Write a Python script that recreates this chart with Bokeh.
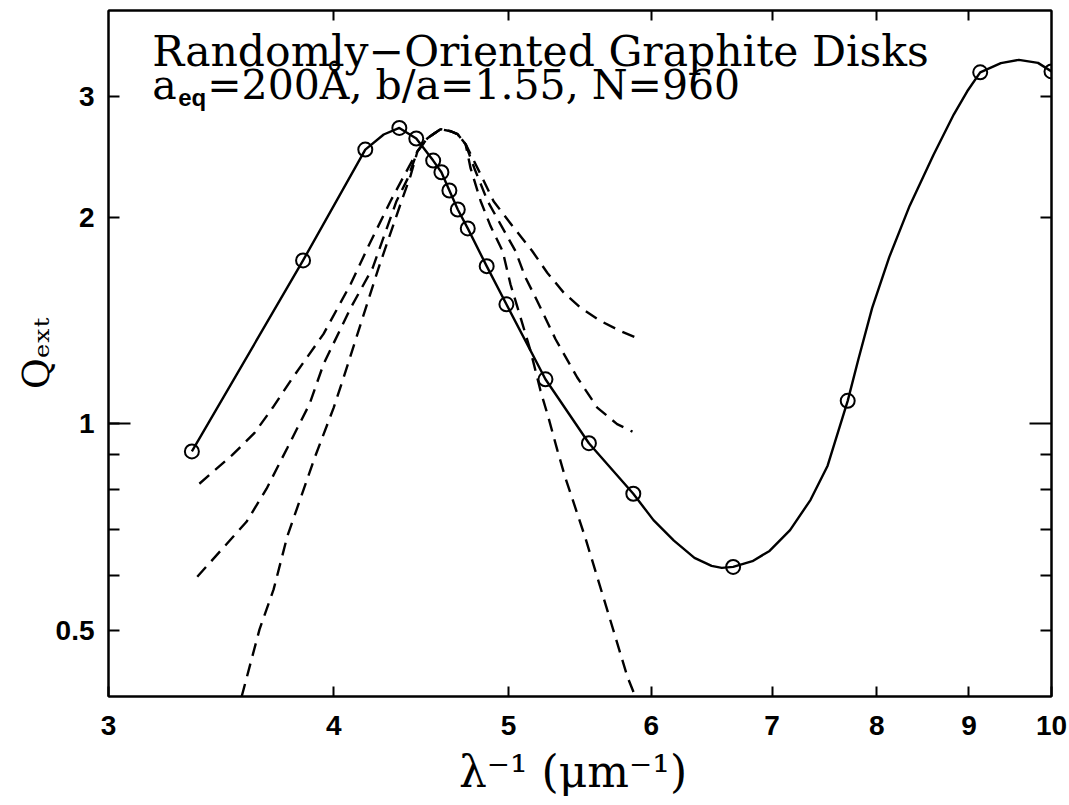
from bokeh.plotting import figure
from bokeh.models import Range1d, LogAxis, FixedTicker, CustomJSTickFormatter, Label
from bokeh.embed import file_html
from bokeh.resources import INLINE

# ---- data ----
x_ticks = [3, 4, 5, 6, 7, 8, 9, 10]
y_ticks = [0.5, 1, 2, 3]
y_minor = [0.6, 0.7, 0.8, 0.9]

# DDA results (open circles)
dda_x = [3.337, 3.846, 4.164, 4.349, 4.444, 4.541, 4.589, 4.636, 4.686, 4.746,
         4.862, 4.986, 5.241, 5.540, 5.863, 6.660, 7.709, 9.13, 10.0]
dda_y = [0.9105, 1.729, 2.508, 2.697, 2.603, 2.417, 2.324, 2.186, 2.051, 1.925,
         1.696, 1.492, 1.160, 0.936, 0.790, 0.618, 1.079, 3.25, 3.26]

# solid curve through the DDA results
curve_x = [3.337, 3.846, 4.164, 4.263, 4.349, 4.444, 4.541, 4.589, 4.636, 4.686,
           4.746, 4.862, 4.986, 5.241, 5.540, 5.863, 6.016, 6.175, 6.339, 6.479,
           6.564, 6.660, 6.826, 6.977, 7.162, 7.352, 7.514, 7.709, 7.815, 7.953,
           8.129, 8.343, 8.602, 8.828, 8.98, 9.13, 9.374, 9.592, 9.829, 10.0]
curve_y = [0.9105, 1.729, 2.508, 2.638, 2.697, 2.603, 2.417, 2.324, 2.186, 2.051,
           1.925, 1.696, 1.492, 1.160, 0.936, 0.790, 0.723, 0.675, 0.637, 0.620,
           0.616, 0.618, 0.630, 0.652, 0.699, 0.774, 0.868, 1.079, 1.241, 1.473,
           1.748, 2.076, 2.465, 2.823, 3.05, 3.25, 3.353, 3.389, 3.355, 3.26]

# dashed curves
dashA_x = [3.369, 3.514, 3.615, 3.700, 3.785, 3.948, 4.087, 4.181, 4.300, 4.383,
           4.451, 4.508, 4.584, 4.644, 4.685, 4.733, 4.806, 4.905, 5.025, 5.153,
           5.253, 5.365, 5.481, 5.623, 5.768, 5.887]
dashA_y = [0.817, 0.900, 0.969, 1.055, 1.154, 1.351, 1.597, 1.814, 2.109, 2.317,
           2.494, 2.606, 2.686, 2.667, 2.641, 2.554, 2.356, 2.109, 1.940, 1.784,
           1.659, 1.551, 1.475, 1.411, 1.364, 1.333]

dashB_x = [3.360, 3.470, 3.578, 3.671, 3.770, 3.878, 3.948, 4.087, 4.203, 4.333,
           4.394, 4.451, 4.508, 4.584, 4.644, 4.685, 4.733, 4.786, 4.868, 4.955,
           5.044, 5.109, 5.186, 5.309, 5.458, 5.599, 5.743, 5.857]
dashB_y = [0.598, 0.657, 0.719, 0.8035, 0.922, 1.068, 1.221, 1.474, 1.685, 2.109,
           2.271, 2.494, 2.606, 2.686, 2.667, 2.641, 2.554, 2.356, 2.109, 1.940,
           1.784, 1.632, 1.509, 1.327, 1.167, 1.055, 0.998, 0.973]

dashC_x = [3.556, 3.638, 3.704, 3.770, 3.833, 3.903, 3.999, 4.050, 4.235, 4.361,
           4.411, 4.451, 4.508, 4.584, 4.644, 4.685, 4.733, 4.763, 4.825, 4.886,
           4.962, 5.012, 5.077, 5.142, 5.208, 5.261, 5.322, 5.373, 5.516, 5.666,
           5.818, 5.869]
dashC_y = [0.400, 0.501, 0.573, 0.686, 0.777, 0.891, 1.054, 1.166, 1.685, 2.109,
           2.294, 2.494, 2.606, 2.686, 2.667, 2.641, 2.554, 2.356, 2.109, 1.940,
           1.784, 1.596, 1.427, 1.276, 1.116, 1.020, 0.913, 0.837, 0.680, 0.539,
           0.428, 0.404]

title1 = "Randomly\u2212Oriented Graphite Disks"
title2a = "a"
title2sub = "eq"
title2b = "=200\u00c5, b/a=1.55, N=960"
x_title = "\u03bb\u207b\u00b9  (\u03bcm\u207b\u00b9)"
y_title = "Q\u2091\u2093\u209c"

# ---- figure ----
p = figure(width=1069, height=805, x_axis_type="log", y_axis_type="log",
           x_range=Range1d(3, 10), y_range=Range1d(0.4, 4.0),
           output_backend="svg", toolbar_location=None,
           min_border_left=108, min_border_right=18, min_border_top=10,
           min_border_bottom=109)
p.grid.visible = False
p.outline_line_color = "black"
p.outline_line_width = 2
p.background_fill_color = "white"
p.border_fill_color = "white"

fmt = CustomJSTickFormatter(code="return tick.toString();")
blank = CustomJSTickFormatter(code="return '';")

xa = p.xaxis[0]
xa.ticker = FixedTicker(ticks=x_ticks, minor_ticks=[])
xa.formatter = fmt
xa.major_tick_in = 10
xa.major_tick_out = 0
xa.minor_tick_in = 0
xa.minor_tick_out = 0
xa.axis_line_width = 2
xa.major_tick_line_width = 2
xa.major_label_standoff = 19
xa.major_label_text_font = "Liberation Sans"
xa.major_label_text_font_style = "bold"
xa.major_label_text_font_size = "28px"
xa.major_label_text_color = "black"
xa.axis_label = x_title
xa.axis_label_text_font = "DejaVu Serif"
xa.axis_label_text_font_style = "normal"
xa.axis_label_text_font_size = "44px"
xa.axis_label_text_color = "black"
xa.axis_label_standoff = 8

ya = p.yaxis[0]
ya.ticker = FixedTicker(ticks=y_ticks, minor_ticks=y_minor)
ya.formatter = fmt
ya.major_tick_in = 11
ya.major_tick_out = 0
ya.minor_tick_in = 11
ya.minor_tick_out = 0
ya.axis_line_width = 2
ya.major_tick_line_width = 2
ya.minor_tick_line_width = 2
ya.major_label_standoff = 14
ya.major_label_text_font = "Liberation Sans"
ya.major_label_text_font_style = "bold"
ya.major_label_text_font_size = "28px"
ya.major_label_text_color = "black"
ya.axis_label = y_title
ya.axis_label_text_font = "DejaVu Serif"
ya.axis_label_text_font_style = "normal"
ya.axis_label_text_font_size = "38px"
ya.axis_label_text_color = "black"
ya.axis_label_standoff = -5

# longer decade tick at 1 on the left edge (no labels, no space taken)
left_long = LogAxis(ticker=FixedTicker(ticks=[1], minor_ticks=[]),
                    formatter=blank, fixed_location=3,
                    major_tick_in=22, major_tick_out=0, minor_tick_in=0, minor_tick_out=0,
                    major_label_standoff=0, axis_line_color=None,
                    major_tick_line_width=2)
p.add_layout(left_long, "left")

top = LogAxis(ticker=FixedTicker(ticks=x_ticks[1:-1], minor_ticks=[]),
              formatter=blank,
              major_tick_in=10, major_tick_out=0, minor_tick_in=0, minor_tick_out=0,
              major_label_standoff=0,
              axis_line_width=2, major_tick_line_width=2)
p.add_layout(top, "above")

right = LogAxis(ticker=FixedTicker(ticks=[1], minor_ticks=[0.5, 0.6, 0.7, 0.8, 0.9, 2, 3]),
                formatter=blank,
                major_tick_in=22, major_tick_out=0, minor_tick_in=11, minor_tick_out=0,
                major_label_standoff=0,
                axis_line_width=2, major_tick_line_width=2, minor_tick_line_width=2)
p.add_layout(right, "right")

# ---- curves ----
dash_kw = dict(line_color="black", line_width=2.4, line_dash="13 8")
p.line(dashA_x, dashA_y, **dash_kw)
p.line(dashB_x, dashB_y, **dash_kw)
p.line(dashC_x, dashC_y, **dash_kw)
p.line(curve_x, curve_y, line_color="black", line_width=2.4, line_join="round")
p.scatter(dda_x, dda_y, marker="circle", size=14, fill_color=None,
          line_color="black", line_width=2)

# ---- annotation text ----
serif = "DejaVu Serif"
p.add_layout(Label(x=3.172, y=3.487, text=title1, text_font=serif,
                   text_font_size="42.5px", text_color="black",
                   text_baseline="alphabetic", text_align="left"))
p.add_layout(Label(x=3.172, y=3.112, text=title2a, text_font=serif,
                   text_font_size="41px", text_color="black",
                   text_baseline="alphabetic", text_align="left"))
p.add_layout(Label(x=3.279, y=2.990, text=title2sub, text_font="Liberation Sans",
                   text_font_style="bold", text_font_size="24px", text_color="black",
                   text_baseline="alphabetic", text_align="left"))
p.add_layout(Label(x=3.403, y=3.112, text=title2b, text_font=serif,
                   text_font_size="41px", text_color="black",
                   text_baseline="alphabetic", text_align="left"))

open("out.html", "w").write(file_html(p, INLINE))
